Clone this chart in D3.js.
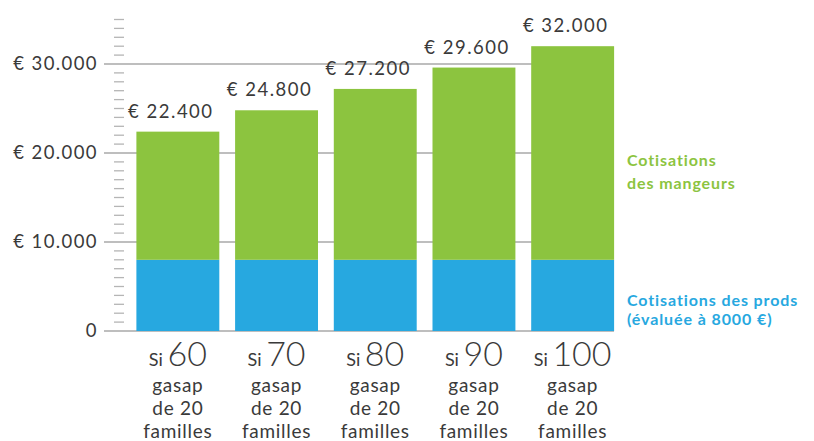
<!DOCTYPE html>
<html>
<head>
<meta charset="utf-8">
<script src="https://cdn.jsdelivr.net/npm/d3@7"></script>
<style>
  html, body { margin: 0; padding: 0; background: #fff; }
  svg { display: block; font-family: Lato, "Open Sans", sans-serif; }
</style>
</head>
<body>
<script>
// data
const groups = ['60', '70', '80', '90', '100'];
const prods = [8000, 8000, 8000, 8000, 8000];
const mangeurs = [14400, 16800, 19200, 21600, 24000];
const totals = [22400, 24800, 27200, 29600, 32000];
const majorTicks = [0, 10000, 20000, 30000];
const legendGreen = ['Cotisations', 'des mangeurs'];
const legendBlue = ['Cotisations des prods', '(évaluée à 8000 €)'];

const green = '#8cc43f';
const blue = '#27a8e0';
const grid = '#a9a9a9';
const textCol = '#3a3a3a';

const width = 814, height = 441;
const svg = d3.select('body').append('svg')
    .attr('width', width)
    .attr('height', height);

const x = d3.scaleBand()
    .domain(groups)
    .range([128.5, 622])
    .paddingInner(0.16)
    .paddingOuter(0.08);

const y = d3.scaleLinear()
    .domain([0, 10000])
    .range([331, 242]);

const fmt = (v) => v === 0 ? '0' : '€ ' + d3.format(',')(v).replace(/,/g, '.');

// minor ticks
const minor = d3.range(1000, 36000, 1000).filter((d) => d % 10000 !== 0);
svg.append('g').selectAll('line')
    .data(minor)
    .join('line')
    .attr('x1', 114).attr('x2', 124)
    .attr('y1', (d) => y(d)).attr('y2', (d) => y(d))
    .attr('stroke', '#b5b5b5')
    .attr('stroke-width', 1.3);

// grid lines
svg.append('g').selectAll('line')
    .data(majorTicks)
    .join('line')
    .attr('x1', 104).attr('x2', x.range()[1] - 8)
    .attr('y1', (d) => y(d)).attr('y2', (d) => y(d))
    .attr('stroke', grid)
    .attr('stroke-width', 1.5);

svg.append('g').selectAll('text')
    .data(majorTicks)
    .join('text')
    .attr('x', 98)
    .attr('y', (d) => y(d) + 6)
    .attr('text-anchor', 'end')
    .attr('fill', textCol)
    .attr('font-size', 18.5)
    .attr('letter-spacing', 1.4)
    .text(fmt);

// bars
const bars = svg.append('g');
bars.selectAll('rect.prods')
    .data(groups)
    .join('rect')
    .attr('class', 'prods')
    .attr('x', (d) => x(d))
    .attr('width', x.bandwidth())
    .attr('y', (d, i) => y(prods[i]))
    .attr('height', (d, i) => y(0) - y(prods[i]))
    .attr('fill', blue);

bars.selectAll('rect.mangeurs')
    .data(groups)
    .join('rect')
    .attr('class', 'mangeurs')
    .attr('x', (d) => x(d))
    .attr('width', x.bandwidth())
    .attr('y', (d, i) => y(prods[i] + mangeurs[i]))
    .attr('height', (d, i) => y(prods[i]) - y(prods[i] + mangeurs[i]))
    .attr('fill', green);

// value labels
svg.append('g').selectAll('text')
    .data(groups)
    .join('text')
    .attr('x', (d) => x(d) + x.bandwidth() / 2 - 7)
    .attr('y', (d, i) => y(totals[i]) - 14)
    .attr('text-anchor', 'middle')
    .attr('fill', textCol)
    .attr('font-size', 18.5)
    .attr('letter-spacing', 1.5)
    .text((d, i) => fmt(totals[i]));

// category labels
const cat = svg.append('g').selectAll('g')
    .data(groups)
    .join('g')
    .attr('transform', (d) => 'translate(' + (x(d) + x.bandwidth() / 2) + ',0)');

const head = cat.append('text')
    .attr('y', 366)
    .attr('text-anchor', 'middle')
    .attr('fill', textCol);
head.append('tspan').attr('font-size', 18).text('Si ');
head.append('tspan').attr('font-size', 34).attr('font-weight', 300).text((d) => d);

['gasap', 'de 20', 'familles'].forEach((t, i) => {
    cat.append('text')
        .attr('y', 392 + i * 23)
        .attr('text-anchor', 'middle')
        .attr('fill', textCol)
        .attr('font-size', 19)
        .attr('letter-spacing', 0.7)
        .text(t);
});

// legend
svg.append('g').selectAll('text')
    .data(legendGreen)
    .join('text')
    .attr('x', 627)
    .attr('y', (d, i) => 166 + i * 23)
    .attr('fill', green)
    .attr('font-size', 16)
    .attr('font-weight', 700)
    .attr('letter-spacing', 0.9)
    .text((d) => d);

svg.append('g').selectAll('text')
    .data(legendBlue)
    .join('text')
    .attr('x', 627)
    .attr('y', (d, i) => 306 + i * 19)
    .attr('fill', blue)
    .attr('font-size', 16)
    .attr('font-weight', 700)
    .attr('letter-spacing', 0.9)
    .text((d) => d);
</script>
</body>
</html>
